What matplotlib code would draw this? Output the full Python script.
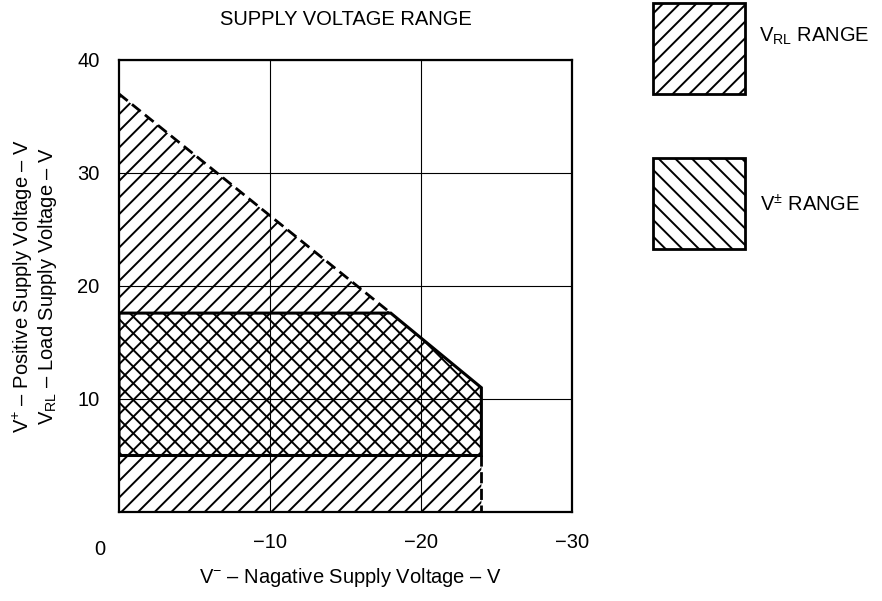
"""
Supply voltage range chart: V_RL range vs V+/- range.
"""
import matplotlib
matplotlib.use("Agg")
import matplotlib.pyplot as plt
from matplotlib.patches import Polygon, Rectangle

plt.rcParams["font.family"] = ["Liberation Sans", "DejaVu Sans"]
plt.rcParams["mathtext.fontset"] = "custom"
plt.rcParams["mathtext.rm"] = "Liberation Sans"
plt.rcParams["mathtext.it"] = "Liberation Sans"
plt.rcParams["hatch.linewidth"] = 1.4

FS = 14.5

# ── Data ───────────────────────────────────────────────────────────────────────
# V_RL range (load supply) outline, x = V-, y = V+
vrl_x = [0, 0, -18, -24, -24]
vrl_y = [0, 37, 17.6, 11, 0]

# V+/- range outline
vpm_x = [0, 0, -18, -24, -24]
vpm_y = [5, 17.6, 17.6, 11, 5]

x_ticks = [-10, -20, -30]
y_ticks = [10, 20, 30, 40]

# ── Figure ─────────────────────────────────────────────────────────────────────
fig = plt.figure(figsize=(8.82, 6.01), dpi=100)
ax = fig.add_axes([0.1349, 0.1481, 0.5136, 0.7521])

ax.set_xlim(0, -30)
ax.set_ylim(0, 40)

# hatched regions
ax.add_patch(Polygon(list(zip(vrl_x, vrl_y)), closed=True, facecolor="none",
                     edgecolor="black", linewidth=0, hatch="//", zorder=2))
ax.add_patch(Polygon(list(zip(vpm_x, vpm_y)), closed=True, facecolor="none",
                     edgecolor="black", linewidth=0, hatch="\\\\", zorder=2))

# dashed part of V_RL boundary
ax.plot(vrl_x[1:3], vrl_y[1:3], color="black", linewidth=2,
        linestyle=(0, (4, 2)), zorder=3)
ax.plot([vpm_x[-1], vrl_x[-1]], [vpm_y[-1], vrl_y[-1]], color="black",
        linewidth=2, linestyle=(0, (4, 2)), zorder=3)

# solid outline of V+/- range (closed)
ax.plot(vpm_x + vpm_x[:1], vpm_y + vpm_y[:1], color="black", linewidth=2.2,
        zorder=3, solid_joinstyle="miter")

ax.set_xticks(x_ticks)
ax.set_yticks(y_ticks)
ax.set_xticklabels([f"\u2212{abs(t)}" for t in x_ticks])
ax.set_yticklabels([str(t) for t in y_ticks])
ax.tick_params(length=0, labelsize=FS)
ax.tick_params(axis="x", pad=15)
ax.tick_params(axis="y", pad=14)
ax.grid(True, color="black", linewidth=0.8, zorder=1)
ax.set_axisbelow(True)
for s in ax.spines.values():
    s.set_linewidth(1.6)
    s.set_zorder(4)

ax.text(-0.042, -0.083, "0", transform=ax.transAxes, fontsize=FS,
        ha="center", va="center")

ax.set_title("SUPPLY VOLTAGE RANGE", fontsize=FS, pad=25)
ax.set_xlabel(r"V$^{-}$ – Nagative Supply Voltage – V", fontsize=FS)
ax.xaxis.set_label_coords(0.51, -0.12)
fig.text(0.040, 0.524,
         "V$^{+}$ – Positive Supply Voltage – V\n"
         r"V$_{\mathrm{RL}}$ – Load Supply Voltage – V",
         rotation=90, ha="center", va="center", fontsize=FS,
         linespacing=1.05)

# ── Legend boxes ───────────────────────────────────────────────────────────────
fig.patches.append(Rectangle((0.7404, 0.8436), 0.1043, 0.1514,
                             transform=fig.transFigure, facecolor="none",
                             edgecolor="black", linewidth=2, hatch="//"))
fig.patches.append(Rectangle((0.7404, 0.5857), 0.1043, 0.1514,
                             transform=fig.transFigure, facecolor="none",
                             edgecolor="black", linewidth=2, hatch="\\\\"))
fig.text(0.860, 0.940, r"V$_{\mathrm{RL}}$ RANGE", fontsize=FS,
         ha="left", va="center")
fig.text(0.862, 0.660, r"V$^{\pm}$ RANGE", fontsize=FS,
         ha="left", va="center")

fig.savefig("out.png", dpi=100)
